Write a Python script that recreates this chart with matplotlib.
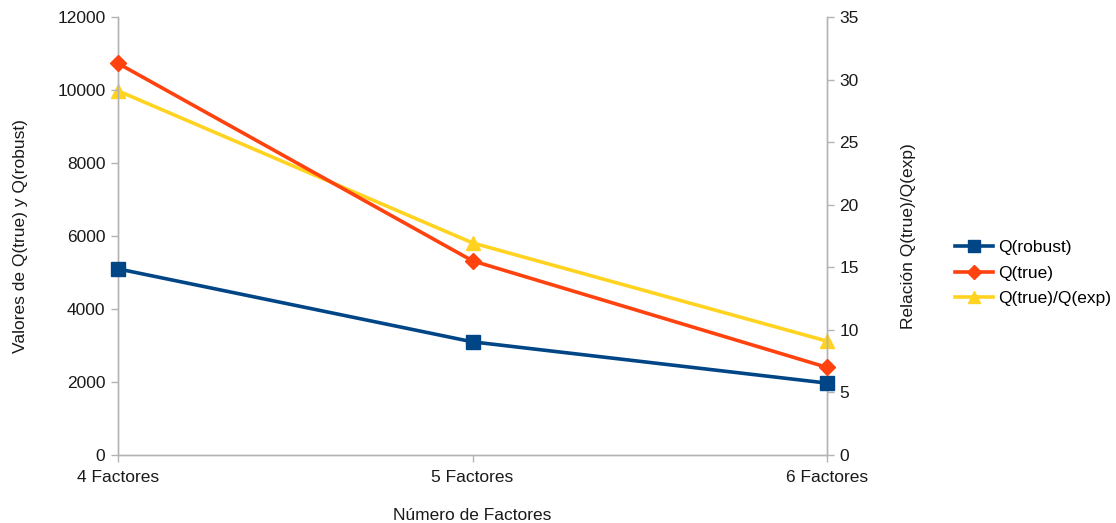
import matplotlib
matplotlib.use("Agg")
import matplotlib.pyplot as plt

plt.rcParams['font.family'] = ['Liberation Sans', 'DejaVu Sans']

categories = ["4 Factores", "5 Factores", "6 Factores"]
q_robust = [5100, 3100, 1970]
q_true = [10730, 5320, 2400]
ratio = [29.1, 16.95, 9.1]

c_blue = "#004586"
c_orange = "#ff420e"
c_yellow = "#ffd320"
grey = "#b3b3b3"
fs = 12.5

fig = plt.figure(figsize=(11.16, 5.23), dpi=100)
ax = fig.add_axes([118/1116, 1-455/523, (827-118)/1116, (455-17)/523])
ax2 = ax.twinx()

x = list(range(len(categories)))
l1, = ax.plot(x, q_robust, color=c_blue, lw=2.6, marker='s', ms=9.5, label="Q(robust)", clip_on=False, zorder=3)
l2, = ax.plot(x, q_true, color=c_orange, lw=2.6, marker='D', ms=8, label="Q(true)", clip_on=False, zorder=3)
l3, = ax2.plot(x, ratio, color=c_yellow, lw=2.6, marker='^', ms=10, label="Q(true)/Q(exp)", clip_on=False, zorder=2)
ax.set_zorder(ax2.get_zorder() + 1)
ax.patch.set_visible(False)

ax.set_xlim(0, 2)
ax.set_ylim(0, 12000)
ax2.set_ylim(0, 35)
ax.set_yticks(range(0, 12001, 2000))
ax2.set_yticks(range(0, 36, 5))
ax.set_xticks(x)
ax.set_xticklabels(categories)

for a in (ax, ax2):
    a.spines['top'].set_visible(False)
    for s in ('left', 'right', 'bottom'):
        a.spines[s].set_color(grey)
        a.spines[s].set_linewidth(1.0)
    a.tick_params(colors=grey, labelcolor='#1a1a1a', labelsize=fs, length=5, width=1)
ax.tick_params(axis='x', pad=6)
ax.tick_params(axis='y', pad=4)
ax2.tick_params(axis='y', pad=4)

ax.set_xlabel("Número de Factores", fontsize=fs, color='#1a1a1a', labelpad=16)
ax.set_ylabel("Valores de Q(true) y Q(robust)", fontsize=fs, color='#1a1a1a', labelpad=21)
ax2.set_ylabel("Relación Q(true)/Q(exp)", fontsize=fs, color='#1a1a1a', rotation=90, labelpad=30)

fig.legend(handles=[l1, l2, l3], loc='center left', bbox_to_anchor=(939/1116, 1-273/523),
           frameon=False, fontsize=fs, handlelength=2.2, labelspacing=0.6, handletextpad=0.3,
           markerscale=0.85)

fig.savefig("out.png", dpi=100)
